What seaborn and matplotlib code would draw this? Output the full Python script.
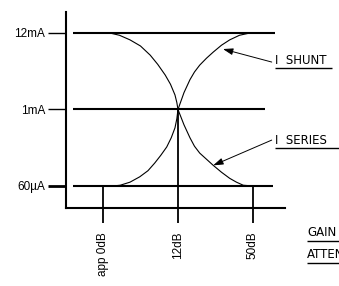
import matplotlib
matplotlib.use("Agg")
import matplotlib.pyplot as plt
import seaborn as sns
import pandas as pd

# Niveles de corriente (eje vertical) y puntos de atenuación (eje horizontal)
levels = [0, 1, 2]
level_labels = ["60µA", "1mA", "12mA"]
level_ends = [2.27, 2.16, 2.29]

atten_pos = [0, 1, 2]
atten_labels = ["app 0dB", "12dB", "50dB"]
drop_tops = [0, 1, 0]

# Curvas
series_x = [0.09, 0.22, 0.36, 0.50, 0.63, 0.73, 0.83, 0.90, 0.96, 0.985, 1.0,
            1.08, 1.16, 1.22, 1.29, 1.38, 1.47, 1.58, 1.69, 1.78, 1.87, 2.0]
series_y = [2.0, 1.97, 1.91, 1.83, 1.71, 1.59, 1.45, 1.33, 1.19, 1.09, 1.0,
            0.80, 0.63, 0.52, 0.43, 0.35, 0.27, 0.18, 0.10, 0.05, 0.01, 0.0]
shunt_x = [0.13, 0.23, 0.36, 0.49, 0.60, 0.69, 0.77, 0.85, 0.91, 0.96, 0.985, 1.0,
           1.08, 1.16, 1.22, 1.29, 1.38, 1.47, 1.58, 1.69, 1.82, 1.96]
shunt_y = [0.0, 0.01, 0.05, 0.12, 0.20, 0.30, 0.40, 0.51, 0.63, 0.76, 0.88, 1.0,
           1.22, 1.39, 1.49, 1.58, 1.67, 1.75, 1.84, 1.91, 1.97, 2.0]

sns.set_style("white")
plt.rcParams["font.family"] = ["Liberation Sans", "DejaVu Sans"]
plt.rcParams["text.color"] = "black"
plt.rcParams["xtick.labelcolor"] = "black"
plt.rcParams["ytick.labelcolor"] = "black"


def generar_grafico():
    fig = plt.figure(figsize=(3.39, 2.86), dpi=100)
    ax = fig.add_axes([0, 0, 1, 1])
    ax.set_xlim(-1.373, 3.147)
    ax.set_ylim(-1.307, 2.431)

    curvas = pd.DataFrame({
        "x": series_x + shunt_x,
        "y": series_y + shunt_y,
        "curva": ["I SERIES"] * len(series_x) + ["I SHUNT"] * len(shunt_x),
    })
    sns.lineplot(data=curvas, x="x", y="y", units="curva", estimator=None,
                 sort=False, color="black", lw=0.8, ax=ax, legend=False,
                 solid_joinstyle="round")

    # Líneas de nivel y caídas verticales
    ax.hlines(levels, -0.4, level_ends, color="black", lw=1.5)
    ax.vlines(atten_pos, -0.29, drop_tops, color="black", lw=1.3)

    # Ejes estilo dibujo técnico
    for s in ["top", "right"]:
        ax.spines[s].set_visible(False)
    ax.spines["left"].set_position(("data", -0.49))
    ax.spines["left"].set_bounds(-0.29, 2.27)
    ax.spines["bottom"].set_position(("data", -0.29))
    ax.spines["bottom"].set_bounds(-0.49, 2.43)
    for s in ["left", "bottom"]:
        ax.spines[s].set_color("black")
        ax.spines[s].set_linewidth(1.5)

    ax.set_yticks(levels, level_labels, fontsize=8.5)
    ax.tick_params(axis="y", direction="out", length=13, width=1.0, pad=2,
                   left=True, color="black")
    ax.yaxis.get_major_ticks()[0].tick1line.set_markeredgewidth(2.0)

    ax.set_xticks(atten_pos, atten_labels, rotation=90, fontsize=8.5, va="top")
    ax.tick_params(axis="x", direction="out", length=11, width=1.3, pad=6,
                   bottom=True, color="black")
    ax.set_xlabel("")
    ax.set_ylabel("")

    # Anotaciones con flecha
    flecha = dict(arrowstyle="-|>,head_length=0.6,head_width=0.2",
                  color="black", lw=0.7, shrinkA=0, shrinkB=0)
    ax.annotate("", xy=(1.6, 1.79), xytext=(2.25, 1.62), arrowprops=flecha)
    ax.annotate("", xy=(1.47, 0.27), xytext=(2.25, 0.60), arrowprops=flecha)

    fuente = dict(fontsize=8.5, family=["DejaVu Sans"], va="center", ha="left",
                  color="black")
    ax.text(2.29, 1.64, "I  SHUNT", **fuente)
    ax.text(2.29, 0.60, "I  SERIES", **fuente)
    ax.text(2.72, -0.61, "GAIN", **fuente)
    ax.text(2.72, -0.89, "ATTENUATION", **fuente)

    # Subrayados
    ax.hlines([1.54, 0.50], 2.29, [3.05, 3.2], color="black", lw=1.0)
    ax.hlines([-0.72, -1.0], 2.72, 3.2, color="black", lw=1.0)

    fig.savefig("out.png", dpi=100)
    plt.close(fig)


if __name__ == "__main__":
    generar_grafico()
